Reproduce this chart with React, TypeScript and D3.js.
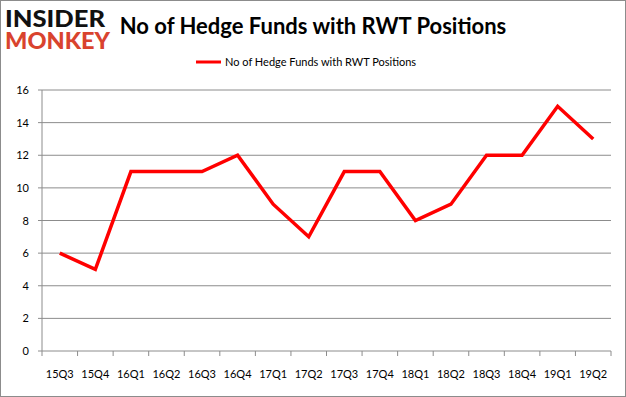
import * as d3 from "d3"

const quarters = ["15Q3", "15Q4", "16Q1", "16Q2", "16Q3", "16Q4", "17Q1", "17Q2", "17Q3", "17Q4", "18Q1", "18Q2", "18Q3", "18Q4", "19Q1", "19Q2"]
const funds = [6, 5, 11, 11, 11, 12, 9, 7, 11, 11, 8, 9, 12, 12, 15, 13]
const yTicks = [0, 2, 4, 6, 8, 10, 12, 14, 16]
const seriesName = "No of Hedge Funds with RWT Positions"

const W = 626
const H = 397
const left = 42
const right = 611
const top = 90
const bottom = 351
const font = "Lato, 'Open Sans', sans-serif"

export default function App() {
  const x = d3.scaleBand().domain(quarters).range([left, right])
  const y = d3.scaleLinear().domain([0, 16]).range([bottom, top])
  const line = d3
    .line<number>()
    .x((_, i) => x(quarters[i])! + x.bandwidth() / 2)
    .y((d) => y(d))

  const edges = quarters.map((q) => x(q)!).concat(right)

  return (
    <svg width={W} height={H} style={{ position: "absolute", left: 0, top: 0 }} fontFamily={font}>
      <rect x={0.5} y={0.5} width={W - 1} height={H - 1} fill="#fff" stroke="#8c8c8c" />

      {/* logo */}
      <text x={5} y={27} fontSize={23} fontWeight={900} fill="#111" textLength={100} lengthAdjust="spacingAndGlyphs">INSIDER</text>
      <text x={5} y={49} fontSize={23} fontWeight={900} fill="#d9432e" textLength={105} lengthAdjust="spacingAndGlyphs">MONKEY</text>

      <text x={313} y={34} textAnchor="middle" fontSize={22} fontWeight={700} fill="#000">
        {seriesName}
      </text>

      <line x1={196} x2={221} y1={62} y2={62} stroke="#ff0000" strokeWidth={3} />
      <text x={225} y={66} fontSize={11} fill="#000">{seriesName}</text>

      {yTicks.map((t) => (
        <g key={t}>
          <line x1={left - 4} x2={right} y1={y(t)} y2={y(t)} stroke="#8c8c8c" />
          <text x={29} y={y(t) + 4} textAnchor="end" fontSize={11} fill="#000">{t}</text>
        </g>
      ))}
      <line x1={left} x2={left} y1={top} y2={bottom} stroke="#8c8c8c" />
      {edges.map((e, i) => (
        <line key={i} x1={e} x2={e} y1={bottom} y2={bottom + 5} stroke="#8c8c8c" />
      ))}
      {quarters.map((q) => (
        <text key={q} x={x(q)! + x.bandwidth() / 2} y={bottom + 27} textAnchor="middle" fontSize={11} fill="#000">
          {q}
        </text>
      ))}

      <path d={line(funds) ?? ""} fill="none" stroke="#ff0000" strokeWidth={3.5} strokeLinejoin="miter" />
    </svg>
  )
}
